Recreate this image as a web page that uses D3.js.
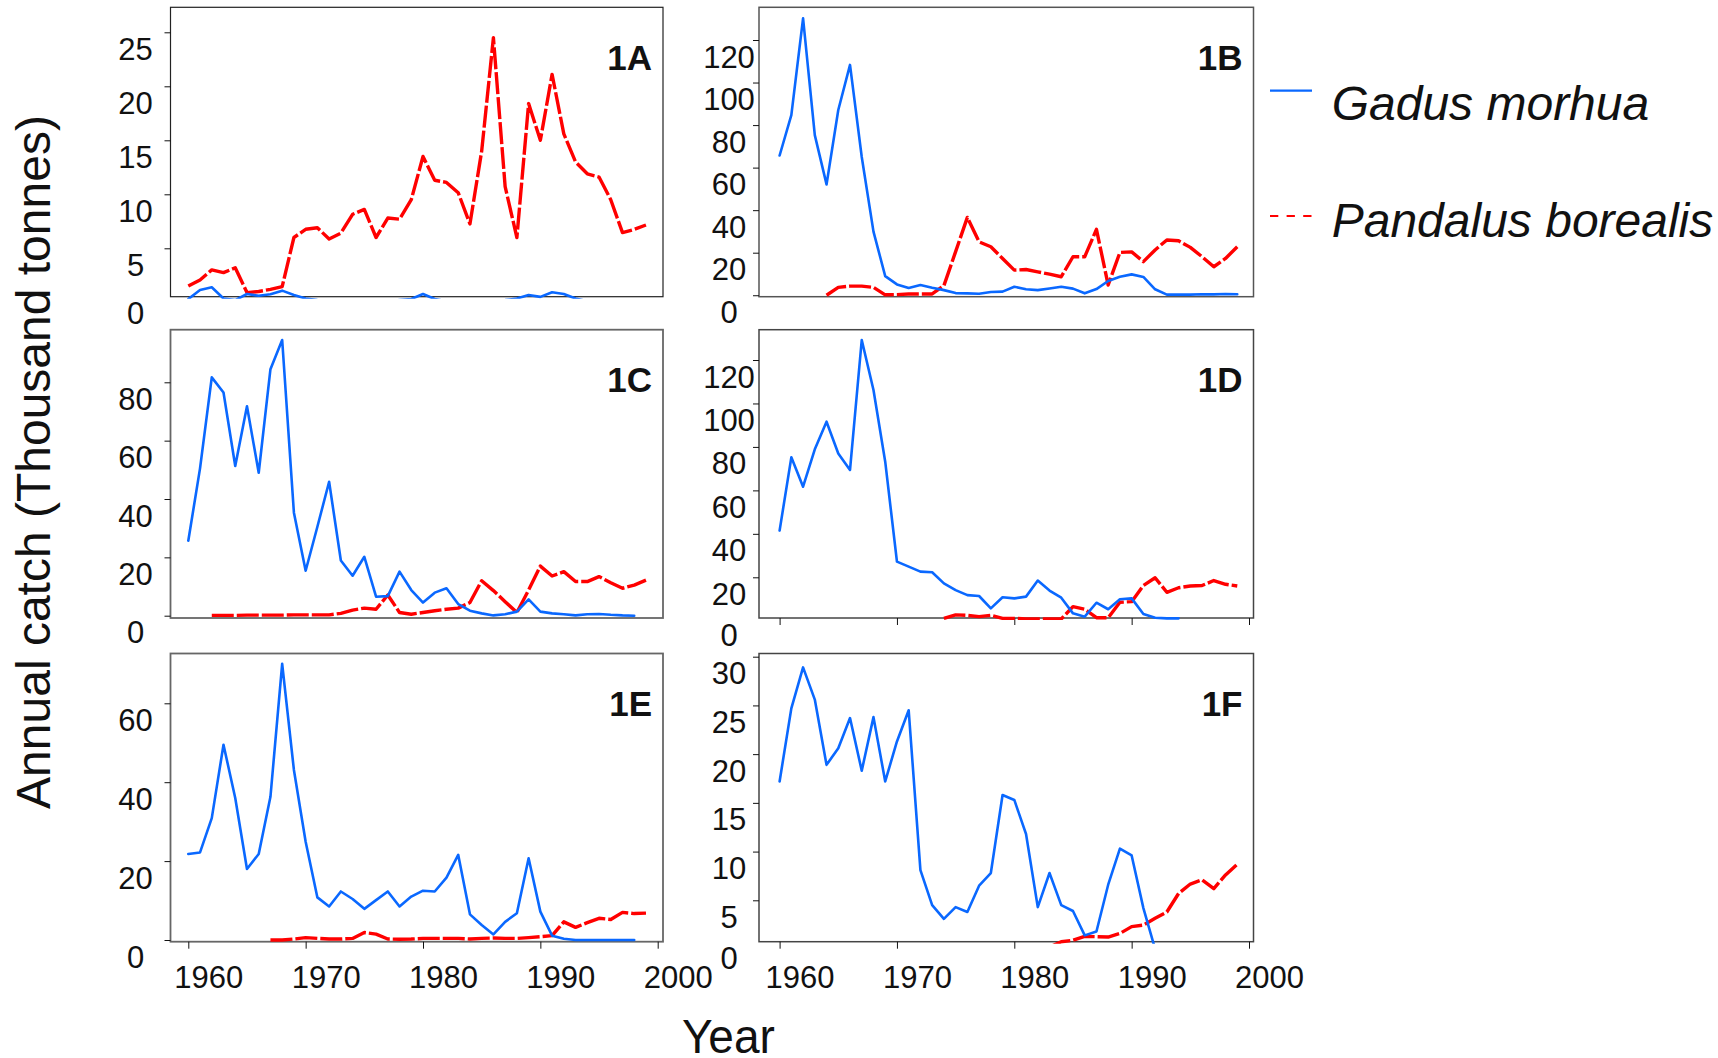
<!DOCTYPE html>
<html><head><meta charset="utf-8">
<script src="https://cdn.jsdelivr.net/npm/d3@7"></script>
<style>
body{margin:0;background:#fff}
svg{display:block}
text{font-family:"Liberation Sans",Arial,Helvetica,sans-serif}
</style>
</head><body>
<svg id="chart" width="1718" height="1058"></svg>
<script>
// ---------------- data ----------------
const years = [1960,1961,1962,1963,1964,1965,1966,1967,1968,1969,
               1970,1971,1972,1973,1974,1975,1976,1977,1978,1979,
               1980,1981,1982,1983,1984,1985,1986,1987,1988,1989,
               1990,1991,1992,1993,1994,1995,1996,1997,1998,1999];

const codA = [0.3,1.14,1.39,0.35,0.2,0.77,0.6,0.74,1.08,0.68,
              0.35,0.2,0.1,0.1,0.1,0.1,0.1,0.1,0.2,0.3,
              0.77,0.3,0.1,0.1,0.1,0.1,0.1,0.2,0.35,0.68,
              0.5,0.93,0.77,0.35,0.1,0.1,0.1,0.1,0.1,null];
const shrimpA = [1.5,2.07,3.0,2.75,3.2,0.9,1.0,1.2,1.45,6.0,
                 6.76,6.9,5.86,6.4,8.15,8.6,6.0,7.8,7.7,9.5,
                 13.5,11.3,11.1,10.15,7.25,14.0,24.5,10.7,6.0,18.4,
                 15.0,21.1,15.6,13.0,11.9,11.6,9.5,6.45,6.75,7.16];

const codB = [65.7,84.7,130.2,75.3,52.1,87.1,108.3,65.0,29.9,9.0,
              5.1,3.4,4.8,3.5,2.4,1.0,0.9,0.7,1.5,1.7,
              4.0,2.8,2.4,3.2,4.0,3.1,0.9,2.9,6.7,8.7,
              9.8,8.6,2.8,0.3,0.3,0.3,0.5,0.4,0.6,0.5];
const shrimpB = [null,null,null,null,0,3.7,4.3,4.3,3.7,0.2,
                 0.3,0.6,0.6,0.6,4.5,20.5,36.6,25.1,22.8,17.3,
                 11.8,12.1,11.0,9.9,8.7,18.1,18.1,31.0,4.8,20.1,
                 20.4,15.8,21.3,26.0,25.6,22.5,18.1,13.4,17.3,22.8];

const codC = [25.7,50.5,81.7,76.5,51.3,71.8,49.0,84.5,94.5,35.3,
              15.4,30.5,45.9,18.9,13.7,20.2,6.5,6.7,15.1,8.8,
              4.5,7.9,9.4,4.0,1.7,0.8,0.1,0.5,1.4,5.6,
              1.4,0.8,0.5,0.1,0.5,0.6,0.3,0.1,0.0,null];
const shrimpC = [null,null,0.1,0.1,0.1,0.2,0.2,0.2,0.2,0.3,
                 0.3,0.3,0.3,0.8,1.9,2.6,2.2,7.1,1.1,0.5,
                 1.1,1.7,2.2,2.6,4.5,12.0,8.6,4.8,1.1,8.8,
                 17.0,13.6,15.1,11.7,11.7,13.4,11.3,9.4,10.5,12.2];

const codD = [41.5,75.2,61.7,78.9,91.6,77.0,69.4,129.2,106.2,73.2,
              27.2,24.9,22.6,22.3,17.2,14.1,11.8,11.4,5.7,10.8,
              10.3,11.1,18.5,13.9,10.6,3.4,1.9,8.3,5.3,9.9,
              10.3,3.1,1.4,1.1,1.1,null,null,null,null,null];
const shrimpD = [null,null,null,null,null,null,null,null,null,null,
                 null,null,null,null,1.1,2.7,2.5,1.9,2.5,1.1,
                 1.1,0.8,0.8,0.8,0.8,6.5,5.3,1.4,1.4,8.5,
                 8.8,16.2,19.8,13.1,15.2,16.0,16.2,18.5,16.8,16.0];

const codE = [21.8,22.2,30.9,49.5,36.0,18.0,21.8,36.3,70.0,43.1,
              24.9,10.8,8.5,12.3,10.4,7.9,10.1,12.3,8.5,11.0,
              12.5,12.3,15.8,21.6,6.5,3.8,1.4,4.6,6.8,20.7,
              7.2,1.1,0.3,0,0,0,0,0,0,null];
const shrimpE = [null,null,null,null,null,null,null,0,0,0.25,
                 0.6,0.4,0.25,0.25,0.4,1.9,1.5,0.25,0.2,0.25,
                 0.4,0.4,0.4,0.4,0.25,0.4,0.5,0.4,0.4,0.6,
                 0.85,1.1,4.6,3.2,4.4,5.5,5.2,7.0,6.7,6.8];

const codF = [17.2,24.7,28.9,25.6,18.9,20.6,23.7,18.3,23.8,17.2,
              21.3,24.5,8.1,4.5,3.1,4.3,3.8,6.5,7.8,15.8,
              15.3,11.8,4.3,7.8,4.5,3.9,1.4,1.8,6.6,10.3,
              9.6,4.2,0,null,null,null,null,null,null,null];
const shrimpF = [null,null,null,null,null,null,null,null,null,null,
                 null,null,null,null,null,null,null,null,null,null,
                 null,null,null,0.2,0.75,0.9,1.3,1.27,1.23,1.6,
                 2.3,2.46,3.15,3.8,5.7,6.67,7.1,6.2,7.6,8.7];

const yTicksA = [0,5,10,15,20,25];
const yTicksB = [0,20,40,60,80,100,120];
const yTicksC = [0,20,40,60,80];
const yTicksD = [0,20,40,60,80,100,120];
const yTicksE = [0,20,40,60];
const yTicksF = [0,5,10,15,20,25,30];
const xTicks = [1960,1970,1980,1990,2000];

const panelLabels = ["1A","1B","1C","1D","1E","1F"];
const seriesNames = ["Gadus morhua","Pandalus borealis"];
const yTitle = "Annual catch (Thousand tonnes)";
const xTitle = "Year";

// ---------------- layout ----------------
const COD = "#0a68ff", SHRIMP = "#ff0000";
const svg = d3.select("#chart");
const cols = [
  {x0:170.5, x1:663,    t0:188.3, t1:657.7, lab:135.5},
  {x0:759,   x1:1253.5, t0:779.6, t1:1249,  lab:729}
];
const rows = [{y0:7.3,y1:296.7},{y0:329.7,y1:618},{y0:653.5,y1:941.7}];

const panels = [
  {col:0,row:0,cod:codA,shrimp:shrimpA,ticks:yTicksA,cal:[25,32.3,5,248.3],xt:false,xl:false,box:"#222",bw:1.2},
  {col:1,row:0,cod:codB,shrimp:shrimpB,ticks:yTicksB,cal:[120,40,20,252.7],xt:false,xl:false,box:"#555",bw:1.5},
  {col:0,row:1,cod:codC,shrimp:shrimpC,ticks:yTicksC,cal:[80,382.3,0,615.7],xt:false,xl:false,box:"#666",bw:1.8},
  {col:1,row:1,cod:codD,shrimp:shrimpD,ticks:yTicksD,cal:[120,360,20,577.3],xt:true,xl:false,box:"#444",bw:1.5},
  {col:0,row:2,cod:codE,shrimp:shrimpE,ticks:yTicksE,cal:[60,703.3,0,940],xt:true,xl:true,box:"#666",bw:1.8},
  {col:1,row:2,cod:codF,shrimp:shrimpF,ticks:yTicksF,cal:[30,656.7,5,900.3],xt:true,xl:true,box:"#444",bw:1.5}
];

const defs = svg.append("defs");

panels.forEach((p,i)=>{
  const c = cols[p.col], r = rows[p.row];
  const x = d3.scaleLinear().domain([xTicks[0], xTicks[xTicks.length-1]]).range([c.t0, c.t1]);
  const y = d3.scaleLinear().domain([p.cal[0], p.cal[2]]).range([p.cal[1], p.cal[3]]);
  const g = svg.append("g");

  // box
  g.append("rect").attr("x",c.x0).attr("y",r.y0)
    .attr("width",c.x1-c.x0).attr("height",r.y1-r.y0)
    .attr("fill","none").attr("stroke",p.box).attr("stroke-width",p.bw);

  // clip
  const cid = "clip"+i;
  defs.append("clipPath").attr("id",cid).append("rect")
    .attr("x",c.x0).attr("y",r.y0-1).attr("width",c.x1-c.x0).attr("height",r.y1-r.y0+3);

  // y axis
  const ya = g.append("g").attr("transform",`translate(${c.x0},0)`)
    .call(d3.axisLeft(y).tickValues(p.ticks).tickSize(6).tickSizeOuter(0).tickFormat(d3.format("d")));
  ya.select(".domain").remove();
  ya.selectAll(".tick").each(function(d){
    const t = d3.select(this), ty = y(d);
    const off = Math.min(ty, r.y1) - ty;
    if (ty > r.y1 + 0.5) t.select("line").remove();
    t.select("line").attr("stroke","#111");
    t.select("text").attr("x", c.lab - c.x0).attr("dy", null).attr("y", off + 27)
      .attr("text-anchor","middle").attr("font-size",31).attr("fill","#111")
      .attr("font-family",'"Liberation Sans",Arial,sans-serif');
  });

  // x axis
  if (p.xt) {
    const xa = g.append("g").attr("transform",`translate(0,${r.y1})`)
      .call(d3.axisBottom(x).tickValues(xTicks).tickSize(7).tickSizeOuter(0).tickFormat(d3.format("d")));
    xa.select(".domain").remove();
    xa.selectAll(".tick line").attr("stroke","#111");
    if (p.xl) {
      xa.selectAll(".tick text").attr("x",20).attr("y",46.6).attr("dy",null)
        .attr("font-size",31).attr("fill","#111")
        .attr("font-family",'"Liberation Sans",Arial,sans-serif');
    } else {
      xa.selectAll(".tick text").remove();
    }
  }

  // lines
  const line = d3.line().defined(d=>d.v!=null).x(d=>x(d.yr)).y(d=>y(d.v));
  const lg = g.append("g").attr("clip-path",`url(#${cid})`);
  const codData = years.map((yr,k)=>({yr, v:p.cod[k]}));
  const shrimpData = years.map((yr,k)=>({yr, v:p.shrimp[k]}));
  lg.append("path").datum(shrimpData).attr("d",line)
    .attr("fill","none").attr("stroke",SHRIMP).attr("stroke-width",3.4)
    .attr("stroke-dasharray","22,3").attr("stroke-linejoin","round");
  lg.append("path").datum(codData).attr("d",line)
    .attr("fill","none").attr("stroke",COD).attr("stroke-width",2.6)
    .attr("stroke-linejoin","round").attr("stroke-linecap","round");

  // panel label
  g.append("text").attr("x",c.x1-11).attr("y",r.y0+62.5)
    .attr("text-anchor","end").attr("font-size",35).attr("font-weight","bold")
    .attr("fill","#111").text(panelLabels[i]);
});

// titles
svg.append("text").attr("transform","translate(50,462) rotate(-90)")
  .attr("text-anchor","middle").attr("font-size",48).attr("fill","#111").text(yTitle);
svg.append("text").attr("x",728.4).attr("y",1053).attr("text-anchor","middle")
  .attr("font-size",48).attr("textLength",93).attr("lengthAdjust","spacingAndGlyphs")
  .attr("fill","#111").text(xTitle);

// legend
const leg = svg.append("g");
const legItems = [
  {name:seriesNames[0], color:COD, dash:null, ly:90.7, ty:120},
  {name:seriesNames[1], color:SHRIMP, dash:"8.3,8.3", ly:216, ty:236.7}
];
legItems.forEach(it=>{
  leg.append("line").attr("x1",1270).attr("x2",1312).attr("y1",it.ly).attr("y2",it.ly)
    .attr("stroke",it.color).attr("stroke-width",2.2).attr("stroke-dasharray",it.dash);
  leg.append("text").attr("x",1331.7).attr("y",it.ty).attr("font-size",48)
    .attr("font-style","italic").attr("fill","#111").text(it.name);
});
</script>
</body></html>
